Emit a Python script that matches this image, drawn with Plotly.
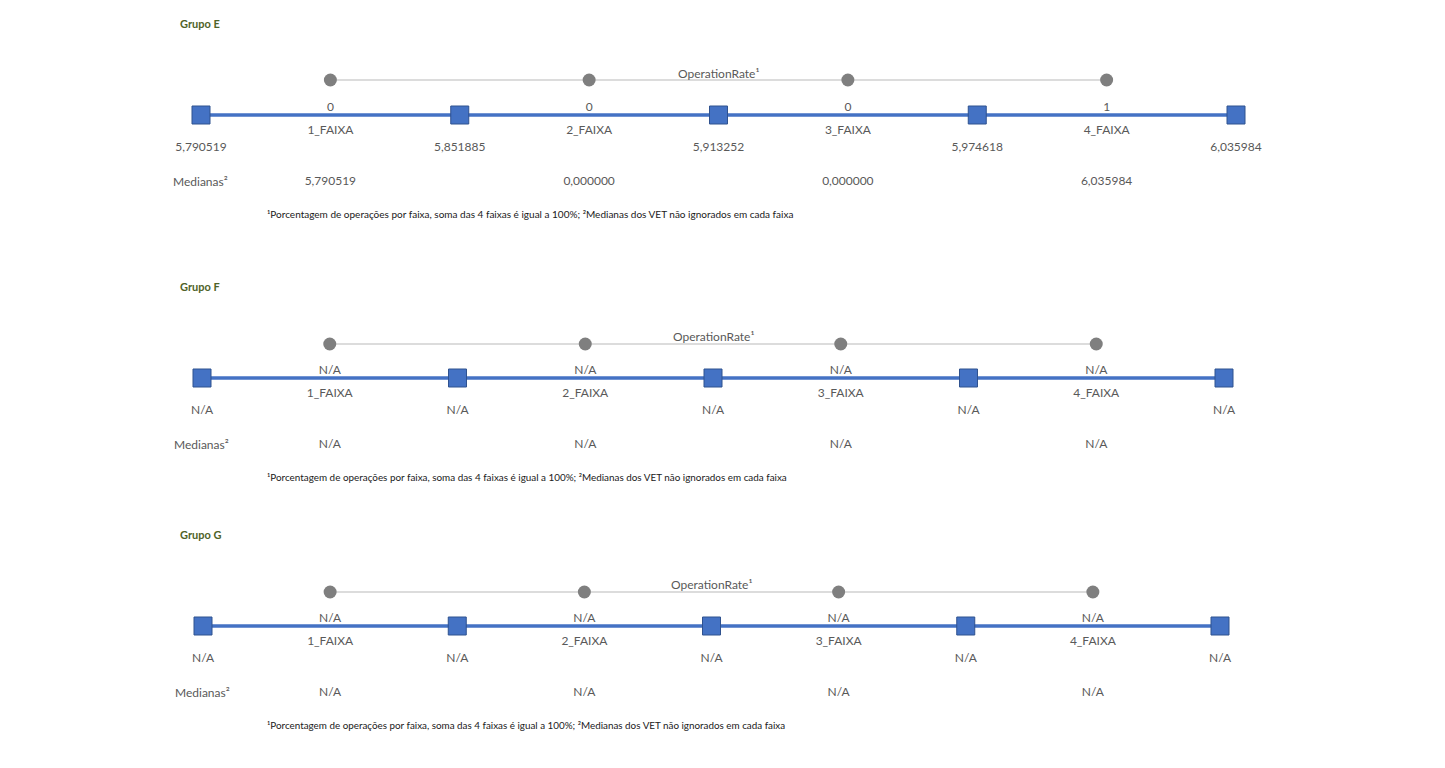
import plotly.graph_objects as go

# ---------------- data ----------------
groups = ["Grupo E", "Grupo F", "Grupo G"]
faixas = ["1_FAIXA", "2_FAIXA", "3_FAIXA", "4_FAIXA"]
boundary_idx = [0, 1, 2, 3, 4]
faixa_idx = [0.5, 1.5, 2.5, 3.5]

rate_E = ["0", "0", "0", "1"]
bounds_E = ["5,790519", "5,851885", "5,913252", "5,974618", "6,035984"]
medianas_E = ["5,790519", "0,000000", "0,000000", "6,035984"]

rate_F = ["N/A", "N/A", "N/A", "N/A"]
bounds_F = ["N/A", "N/A", "N/A", "N/A", "N/A"]
medianas_F = ["N/A", "N/A", "N/A", "N/A"]

rate_G = ["N/A", "N/A", "N/A", "N/A"]
bounds_G = ["N/A", "N/A", "N/A", "N/A", "N/A"]
medianas_G = ["N/A", "N/A", "N/A", "N/A"]

rates = [rate_E, rate_F, rate_G]
bounds = [bounds_E, bounds_F, bounds_G]
medianas = [medianas_E, medianas_F, medianas_G]

rate_label = "OperationRate¹"
med_label = "Medianas²"
footnote = "¹Porcentagem de operações por faixa, soma das 4 faixas é igual a 100%; ²Medianas dos VET não ignorados em cada faixa"

# ---------------- layout (pixel geometry) ----------------
W, H = 1445, 768
px_left = [201, 202, 203]
px_right = [1236, 1224, 1220]
line_y = [115, 378, 626]
foot_size = [10.0, 9.9, 9.85]

FONT = "Lato"
TXT = "#595959"
BLUE = "#4472C4"
BLUE_DARK = "#2F528F"
GRAY = "#7F7F7F"
LGRAY = "#D0D0D0"

fig = go.Figure()
layout_axes = {}
annotations = []

for g in range(3):
    ax = "x" if g == 0 else f"x{g+1}"
    axname = "xaxis" if g == 0 else f"xaxis{g+1}"
    scale = (px_right[g] - px_left[g]) / 4.0
    r0 = -px_left[g] / scale
    r1 = r0 + W / scale
    axdef = dict(range=[r0, r1], domain=[0, 1], visible=False, fixedrange=True, anchor="y")
    if g > 0:
        axdef["overlaying"] = "x"
    layout_axes[axname] = axdef

    y0 = line_y[g]
    yc = y0 - 35 if g == 0 else y0 - 34

    # gray line with circles (OperationRate)
    fig.add_trace(go.Scatter(
        x=faixa_idx, y=[yc] * 4, xaxis=ax, yaxis="y", mode="lines+markers",
        line=dict(color=LGRAY, width=1.5),
        marker=dict(symbol="circle", size=13, color=GRAY, line=dict(width=0)),
        hoverinfo="skip", showlegend=False, cliponaxis=False))

    # blue line with squares (boundaries)
    fig.add_trace(go.Scatter(
        x=boundary_idx, y=[y0] * 5, xaxis=ax, yaxis="y", mode="lines+markers",
        line=dict(color=BLUE, width=3.5),
        marker=dict(symbol="square", size=18, color=BLUE, line=dict(width=1, color=BLUE_DARK)),
        hoverinfo="skip", showlegend=False, cliponaxis=False))

    # rate values (above line)
    fig.add_trace(go.Scatter(
        x=faixa_idx, y=[y0 - 7] * 4, xaxis=ax, yaxis="y", mode="text",
        text=rates[g], textfont=dict(family=FONT, size=12, color=TXT),
        hoverinfo="skip", showlegend=False, cliponaxis=False))

    # faixa labels
    fig.add_trace(go.Scatter(
        x=faixa_idx, y=[y0 + 15.5] * 4, xaxis=ax, yaxis="y", mode="text",
        text=faixas, textfont=dict(family=FONT, size=12, color=TXT),
        hoverinfo="skip", showlegend=False, cliponaxis=False))

    # boundary values
    fig.add_trace(go.Scatter(
        x=boundary_idx, y=[y0 + 32.5] * 5, xaxis=ax, yaxis="y", mode="text",
        text=bounds[g], textfont=dict(family=FONT, size=12, color=TXT),
        hoverinfo="skip", showlegend=False, cliponaxis=False))

    # medianas values
    fig.add_trace(go.Scatter(
        x=faixa_idx, y=[y0 + 66.5] * 4, xaxis=ax, yaxis="y", mode="text",
        text=medianas[g], textfont=dict(family=FONT, size=12, color=TXT),
        hoverinfo="skip", showlegend=False, cliponaxis=False))

    annotations.append(dict(x=2, y=y0 - 42, xref=ax, yref="y", text=rate_label,
                            showarrow=False, font=dict(family=FONT, size=12, color=TXT),
                            xanchor="center", yanchor="middle"))
    annotations.append(dict(x=(px_left[g] - 1) / W, y=y0 + 66.5, xref="paper", yref="y", text=med_label,
                            showarrow=False, font=dict(family=FONT, size=12, color=TXT),
                            xanchor="center", yanchor="middle"))
    annotations.append(dict(x=265 / W, y=y0 + 99, xref="paper", yref="y", text=footnote,
                            showarrow=False, font=dict(family=FONT, size=foot_size[g], color="#202020"),
                            xanchor="left", yanchor="middle"))
    annotations.append(dict(x=178 / W, y=y0 - 92, xref="paper", yref="y", text="<b>" + groups[g] + "</b>",
                            showarrow=False, font=dict(family=FONT, size=11, color="#4F6228"),
                            xanchor="left", yanchor="middle"))

fig.update_layout(
    width=W, height=H,
    margin=dict(l=0, r=0, t=0, b=0),
    paper_bgcolor="white", plot_bgcolor="white",
    yaxis=dict(range=[H, 0], domain=[0, 1], visible=False, fixedrange=True),
    annotations=annotations,
    showlegend=False,
    **layout_axes,
)

fig.write_html("out.html", config={"displayModeBar": False})
